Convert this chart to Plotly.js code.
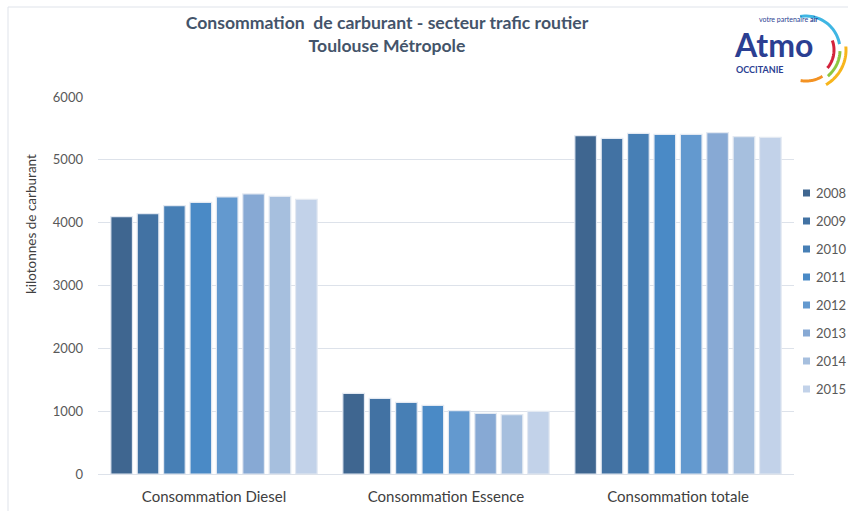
<!DOCTYPE html>
<html>
<head>
<meta charset="utf-8">
<script src="https://cdn.plot.ly/plotly-3.0.1.min.js"></script>
<style>html,body{margin:0;padding:0;background:#fff;}#chart{width:848px;height:511px;}</style>
</head>
<body>
<div id="chart"></div>
<script>
// ---- data ----
const categories = ["Consommation Diesel", "Consommation Essence", "Consommation totale"];
const years = ["2008", "2009", "2010", "2011", "2012", "2013", "2014", "2015"];
const v2008 = [4095, 1284, 5385];
const v2009 = [4143, 1205, 5342];
const v2010 = [4270, 1141, 5422];
const v2011 = [4324, 1093, 5406];
const v2012 = [4409, 1008, 5406];
const v2013 = [4457, 966, 5433];
const v2014 = [4419, 944, 5369];
const v2015 = [4372, 998, 5358];
const yTicks = [0, 1000, 2000, 3000, 4000, 5000, 6000];

const series = [v2008, v2009, v2010, v2011, v2012, v2013, v2014, v2015];
const colors = ["#3f6690", "#4272a3", "#477fb5", "#4a8ac6", "#6399cf", "#87a9d4", "#a6bfde", "#c2d2e9"];
const FONT = "Lato, 'Liberation Sans', sans-serif";

const traces = series.map((vals, i) => ({
  type: "bar",
  name: years[i],
  x: categories,
  y: vals,
  marker: {color: colors[i], line: {color: "#e3e9f2", width: 1.2}},
  hoverinfo: "x+y+name",
  showlegend: false
}));

// plot area pixel mapping helpers (for decoration only)
const L = 98, R = 794, T = 97, B = 474;
const px = x => (x - L) / (R - L);
const py = y => (B - y) / (B - T);

function arc(cx, cy, r, a0, a1) {
  let d = "";
  const n = 24;
  for (let k = 0; k <= n; k++) {
    const a = (a0 + (a1 - a0) * k / n) * Math.PI / 180;
    const x = cx + r * Math.cos(a), y = cy - r * Math.sin(a);
    d += (k === 0 ? "M" : "L") + px(x).toFixed(5) + "," + py(y).toFixed(5) + " ";
  }
  return d;
}

const shapes = [
  // frame
  {type: "line", xref: "paper", yref: "paper", x0: px(8), x1: px(848), y0: py(7), y1: py(7), line: {color: "#dfe3ea", width: 1}},
  {type: "line", xref: "paper", yref: "paper", x0: px(8), x1: px(8), y0: py(7), y1: py(511), line: {color: "#dfe3ea", width: 1}},
  // logo arcs
  {type: "path", xref: "paper", yref: "paper", path: arc(806, 50, 34, 100, 10), line: {color: "#3fb6e3", width: 3}},
  {type: "path", xref: "paper", yref: "paper", path: arc(806, 50, 28, 20, -40), line: {color: "#d2233c", width: 3}},
  {type: "path", xref: "paper", yref: "paper", path: arc(806, 50, 34, -2, -50), line: {color: "#8dc63f", width: 3}},
  {type: "path", xref: "paper", yref: "paper", path: arc(806, 50, 40, 5, -60), line: {color: "#f7b51c", width: 3}},
  {type: "path", xref: "paper", yref: "paper", path: arc(806, 50, 31, -58, -100), line: {color: "#f39223", width: 3}}
];

const annotations = [
  {xref: "paper", yref: "paper", x: px(732), y: py(45), xanchor: "left", yanchor: "middle", text: "<b>Atmo</b>", showarrow: false, font: {family: FONT, size: 32, color: "#2b3f92"}},
  {xref: "paper", yref: "paper", x: px(734), y: py(70), xanchor: "left", yanchor: "middle", text: "<b>OCCITANIE</b>", showarrow: false, font: {family: FONT, size: 9, color: "#2b3f92"}},
  {xref: "paper", yref: "paper", x: px(757), y: py(19), xanchor: "left", yanchor: "middle", text: "votre partenaire <b>air</b>", showarrow: false, font: {family: FONT, size: 7, color: "#2b3f92"}},
  // y-axis title
  {xref: "paper", yref: "paper", x: px(31), y: py(224), xanchor: "center", yanchor: "middle", textangle: -90, text: "kilotonnes de carburant", showarrow: false, font: {family: FONT, size: 13.5, color: "#404040"}}
];

// custom legend (small squares like the reference)
years.forEach((yr, i) => {
  const cy = 193 + i * 28;
  shapes.push({type: "rect", xref: "paper", yref: "paper", x0: px(803), x1: px(810), y0: py(cy - 3.5), y1: py(cy + 3.5), fillcolor: colors[i], line: {width: 0}});
  annotations.push({xref: "paper", yref: "paper", x: px(814), y: py(cy), xanchor: "left", yanchor: "middle", text: yr, showarrow: false, font: {family: FONT, size: 13, color: "#595959"}});
});

const layout = {
  width: 848, height: 511,
  margin: {l: L, r: 848 - R, t: T, b: 511 - B, pad: 0, autoexpand: false},
  paper_bgcolor: "#ffffff", plot_bgcolor: "#ffffff",
  font: {family: FONT, color: "#595959"},
  title: {
    text: "<b>Consommation  de carburant - secteur trafic routier<br>Toulouse Métropole</b>",
    x: px(387), xanchor: "center", xref: "paper",
    y: 1 - 29 / 511, yanchor: "top", yref: "container",
    font: {family: FONT, size: 17.6, color: "#44546a"}
  },
  barmode: "group",
  bargap: 0.09,
  bargroupgap: 0.18,
  xaxis: {
    type: "category",
    showgrid: false, showline: false, zeroline: false, ticks: "",
    tickfont: {family: FONT, size: 15, color: "#404040"},
    ticklabelstandoff: 12
  },
  yaxis: {
    range: [0, 6000],
    tickvals: yTicks, ticktext: yTicks.map(String),
    showgrid: true, gridcolor: "#dde2ea", gridwidth: 1,
    zeroline: true, zerolinecolor: "#dde2ea", zerolinewidth: 1,
    showline: false, ticks: "",
    tickfont: {family: FONT, size: 13, color: "#595959"},
    ticklabelstandoff: 14
  },
  showlegend: false,
  shapes: shapes,
  annotations: annotations
};

Plotly.newPlot("chart", traces, layout, {displayModeBar: false, staticPlot: true});
</script>
</body>
</html>
